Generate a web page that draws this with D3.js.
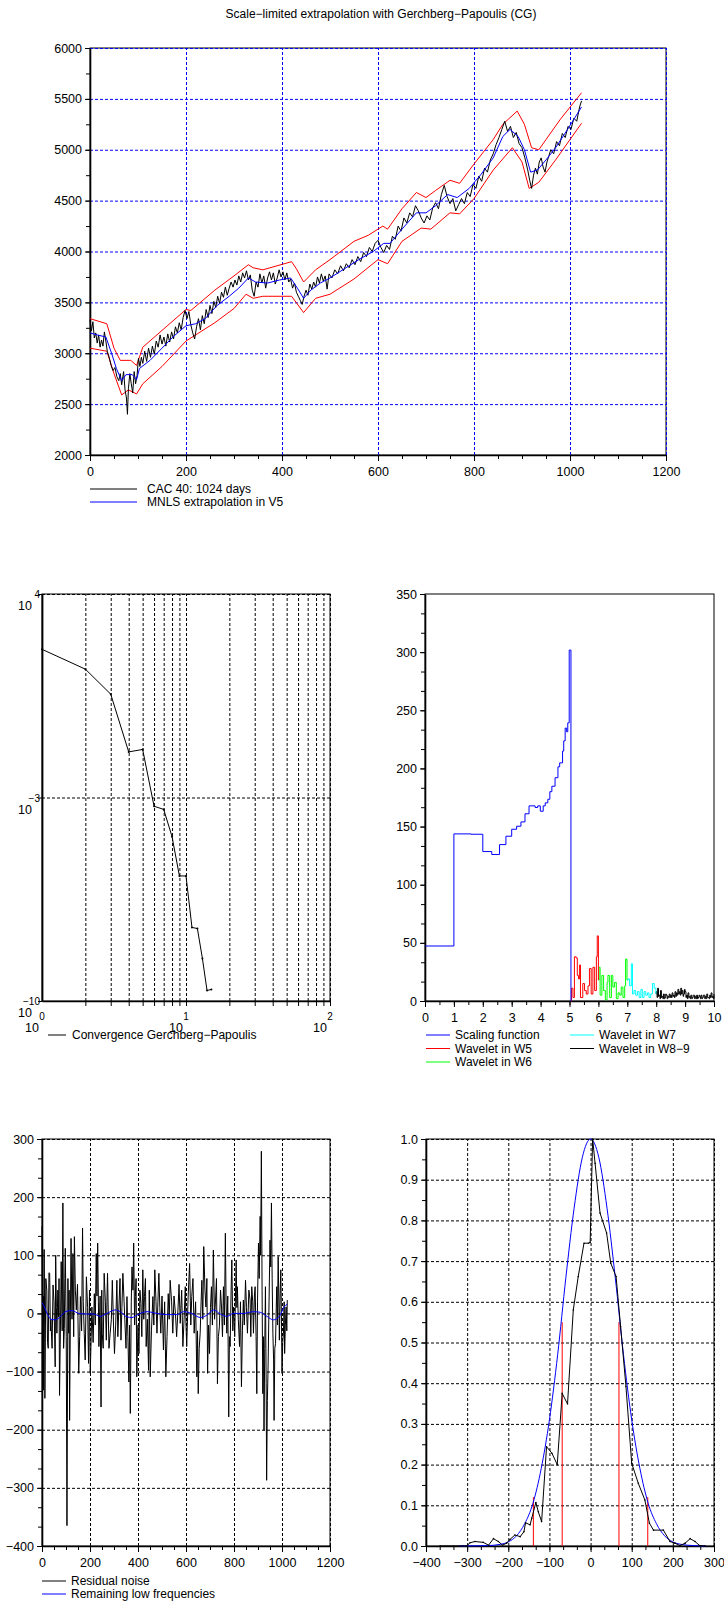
<!DOCTYPE html>
<html>
<head>
<meta charset="utf-8">
<script src="https://cdn.jsdelivr.net/npm/d3@7"></script>
<style>
  body { margin: 0; background: #fff; }
  text { font-family: 'Liberation Sans', Arial, sans-serif; }
</style>
</head>
<body>
<div id="chart"></div>
<script>
// ---- top panel: CAC 40 and extrapolation ----
const cac40 = [[0,3330],[3,3220],[6,3310],[9,3150],[12,3200],[15,3100],[18,3180],[21,3060],[24,3130],[27,3070],[30,3210],[33,3120],[36,3020],[40,2960],[44,2880],[48,2830],[52,2860],[56,2770],[60,2730],[63,2800],[66,2690],[70,2820],[73,2640],[76,2560],[78,2400],[80,2650],[83,2800],[86,2700],[89,2610],[92,2820],[95,2700],[98,2780],[101,2950],[104,2870],[107,2960],[110,2900],[114,3020],[118,2920],[122,3050],[126,2960],[130,3070],[134,2990],[138,3120],[142,3060],[146,3180],[150,3090],[154,3160],[158,3070],[162,3190],[166,3110],[170,3210],[174,3140],[178,3260],[182,3200],[186,3300],[190,3230],[194,3350],[198,3420],[202,3340],[206,3410],[210,3280],[214,3200],[218,3140],[222,3260],[226,3340],[230,3230],[234,3370],[238,3290],[242,3430],[246,3350],[250,3470],[254,3390],[258,3510],[262,3450],[266,3560],[270,3490],[274,3600],[278,3550],[282,3650],[286,3570],[290,3640],[294,3700],[298,3650],[302,3720],[306,3670],[310,3760],[314,3700],[318,3790],[322,3740],[326,3810],[330,3720],[334,3770],[338,3620],[342,3560],[346,3700],[350,3650],[354,3780],[358,3690],[362,3760],[366,3640],[370,3740],[374,3800],[378,3720],[382,3790],[386,3680],[390,3740],[394,3820],[398,3750],[402,3800],[406,3720],[410,3790],[414,3700],[418,3730],[422,3640],[426,3690],[430,3600],[434,3560],[438,3520],[442,3480],[446,3560],[450,3620],[454,3570],[458,3680],[462,3630],[466,3700],[470,3650],[474,3750],[478,3690],[482,3780],[486,3710],[490,3760],[494,3630],[498,3780],[504,3740],[510,3820],[516,3780],[522,3860],[528,3810],[534,3880],[540,3840],[546,3920],[552,3870],[558,3950],[564,3900],[570,3990],[576,3950],[582,4040],[588,4000],[594,4080],[600,4110],[606,4040],[612,3990],[618,4060],[624,4020],[630,4150],[636,4120],[642,4250],[648,4200],[654,4330],[660,4280],[666,4380],[672,4340],[678,4450],[684,4400],[690,4330],[696,4280],[702,4350],[708,4310],[714,4430],[720,4480],[726,4420],[732,4560],[738,4650],[744,4540],[750,4470],[756,4520],[762,4400],[768,4460],[774,4520],[780,4470],[786,4580],[792,4540],[798,4660],[804,4620],[810,4740],[816,4690],[822,4820],[828,4780],[834,4900],[840,4960],[846,5050],[852,5120],[858,5200],[864,5280],[870,5180],[876,5230],[882,5120],[888,5170],[894,5060],[900,5020],[906,4920],[912,4800],[916,4700],[920,4620],[924,4750],[928,4820],[932,4760],[936,4880],[940,4920],[944,4830],[948,4780],[952,4880],[956,4940],[960,5000],[966,4960],[972,5080],[978,5040],[984,5160],[990,5120],[996,5230],[1002,5200],[1008,5310],[1014,5280],[1020,5420],[1024,5480]]

const mnls = [[0,3200],[15,3180],[33,3160],[45,3000],[55,2850],[66,2730],[75,2790],[88,2790],[97,2740],[103,2850],[125,2930],[150,3050],[175,3170],[200,3270],[220,3290],[240,3340],[265,3470],[290,3560],[310,3640],[330,3740],[345,3700],[370,3690],[395,3720],[418,3740],[432,3640],[445,3540],[460,3620],[480,3690],[500,3740],[530,3830],[560,3920],[590,4000],[612,4080],[625,4080],[650,4220],[680,4380],[700,4380],[720,4450],[745,4560],[765,4530],[790,4620],[815,4760],[840,4920],[860,5130],[875,5200],[892,5130],[905,5000],[918,4780],[932,4800],[950,4900],[970,5020],[995,5200],[1024,5420]]

const upperBound = [[0,3340],[35,3290],[50,3050],[63,2930],[85,2930],[97,2880],[110,3060],[200,3430],[210,3420],[260,3620],[300,3760],[330,3870],[340,3840],[360,3820],[420,3900],[430,3830],[445,3700],[470,3820],[500,3920],[550,4100],[580,4160],[610,4250],[620,4220],[650,4420],[680,4580],[700,4530],[720,4600],[750,4700],[770,4670],[800,4860],[840,5100],[860,5250],[890,5380],[905,5250],[920,5020],[935,5000],[950,5100],[980,5300],[1024,5560]]

const lowerBound = [[0,3050],[35,3020],[50,2800],[66,2590],[80,2640],[97,2600],[110,2700],[150,2870],[200,3120],[260,3300],[300,3440],[325,3580],[340,3540],[360,3560],[420,3560],[445,3400],[470,3540],[500,3580],[550,3730],[600,3920],[620,3880],[650,4100],[690,4230],[710,4220],[750,4380],[770,4370],[800,4520],[840,4800],[880,5020],[900,4880],[915,4620],[935,4680],[970,4900],[1024,5260]]

// ---- middle left: convergence ----
const iterations = [1,2,3,4,5,6,7,8,9,10,11,12,13,14,15]
const convError = [1.25e2,2.6e1,3.6,3.7e-2,4.5e-2,5e-4,3.9e-4,4.5e-5,2e-6,2e-6,3.4e-8,3.1e-8,2.9e-9,2.3e-10,2.5e-10]

// ---- middle right: spectrum by scale ----
const scalingFn = [[0,47.3],[1,143.7],[1.59,143.4],[2,128.5],[2.31,126],[2.58,134.5],[2.8,141.7],[3,147.7],[3.17,150.3],[3.32,154],[3.46,161],[3.6,167.8],[3.81,166.4],[3.9,167.8],[3.99,163.2],[4.09,167.8],[4.16,170.4],[4.25,173.5],[4.32,180],[4.39,184.7],[4.5,192],[4.6,201.4],[4.66,204.8],[4.76,214.9],[4.8,223.7],[4.85,234.7],[4.9,231.5],[4.94,239.2],[4.99,301.8],[5.05,0]]
const waveW5 = [[5.05,0],[5.07,11],[5.12,3],[5.17,38],[5.23,37],[5.27,22],[5.31,19],[5.35,31],[5.38,3],[5.46,15],[5.52,9],[5.58,6],[5.64,13],[5.69,28],[5.75,6],[5.81,29],[5.87,9],[5.93,38],[5.96,56],[6.0,18]]
const waveW6 = [[6.0,18],[6.02,29],[6.06,5],[6.12,22],[6.18,9],[6.24,1],[6.3,16],[6.33,22],[6.39,3],[6.45,22],[6.5,12],[6.56,16],[6.62,2],[6.68,7],[6.74,5],[6.79,12],[6.85,3],[6.91,13],[6.94,36],[6.99,18]]
const waveW7 = [[6.99,18],[7.03,19],[7.08,13],[7.14,32],[7.18,6],[7.23,9],[7.29,5],[7.35,8],[7.41,3],[7.47,10],[7.52,3],[7.58,8],[7.64,5],[7.7,7],[7.75,3],[7.81,6],[7.87,15],[7.93,11],[7.99,6]]
const waveW89 = [[7.99,6],[8.0,8],[8.03,3],[8.05,11],[8.08,4],[8.1,5],[8.13,2],[8.15,9],[8.18,3],[8.2,4],[8.23,2],[8.25,6],[8.28,2],[8.3,3],[8.33,6],[8.35,5],[8.38,2],[8.4,4],[8.43,3],[8.45,6],[8.48,3],[8.5,5],[8.53,3],[8.55,7],[8.58,4],[8.6,5],[8.63,3],[8.65,8],[8.68,4],[8.7,7],[8.73,5],[8.75,10],[8.78,6],[8.8,8],[8.83,5],[8.85,11],[8.88,6],[8.9,9],[8.93,4],[8.95,6],[8.98,10],[9.0,8],[9.03,3],[9.05,5],[9.08,2],[9.1,7],[9.13,3],[9.15,4],[9.18,2],[9.2,5],[9.23,2],[9.25,3],[9.28,5],[9.3,5],[9.33,2],[9.35,4],[9.38,2],[9.4,5],[9.43,2],[9.45,3],[9.48,5],[9.5,4],[9.53,2],[9.55,5],[9.58,2],[9.6,3],[9.63,5],[9.65,5],[9.68,2],[9.7,4],[9.73,2],[9.75,6],[9.78,3],[9.8,3],[9.83,2],[9.85,5],[9.88,3],[9.9,7],[9.93,3],[9.95,4],[9.98,2],[10,6]]

// ---- bottom left: residual ----
const residual = [[0,150],[2,20],[3,-80],[5,30],[6,-132],[8,40],[9,110],[11,-20],[12,-146],[16,60],[20,40],[23,-50],[26,-60],[29,70],[32,69],[35,-30],[37,-11],[42,-60],[46,49],[50,20],[55,-92],[57,100],[60,10],[62,-34],[66,40],[69,-6],[71,60],[73,-141],[77,-20],[80,89],[84,-30],[87,190],[90,-60],[93,-26],[95,60],[97,112],[101,-40],[104,-365],[108,60],[111,-34],[113,40],[115,-184],[118,-20],[121,129],[125,-10],[129,103],[132,-40],[135,132],[139,40],[143,6],[148,50],[153,-103],[157,-40],[160,29],[165,-30],[169,147],[172,20],[176,-34],[180,-80],[185,63],[190,10],[194,-86],[198,40],[201,-103],[205,-40],[208,11],[213,-50],[218,34],[222,-20],[226,103],[229,30],[232,121],[235,20],[237,-57],[242,30],[246,-161],[249,40],[251,-34],[255,-60],[259,69],[264,20],[268,-46],[271,30],[273,69],[279,-60],[284,-34],[289,-10],[293,57],[298,-20],[302,-69],[307,-20],[312,57],[316,-40],[320,6],[325,60],[329,-46],[333,10],[337,69],[341,30],[345,-11],[350,-60],[354,29],[358,-40],[362,-118],[365,-20],[368,-172],[372,20],[375,80],[379,40],[382,121],[386,-20],[389,29],[392,60],[395,-109],[400,-20],[404,-69],[408,40],[412,17],[416,-40],[420,75],[424,-10],[427,29],[431,60],[434,-57],[439,-10],[444,-98],[447,40],[451,-109],[456,-30],[462,29],[466,-20],[470,75],[475,20],[479,-34],[483,20],[487,69],[491,10],[495,-34],[500,30],[506,-63],[511,20],[516,-109],[521,-40],[526,34],[530,-10],[534,57],[540,20],[545,-34],[550,30],[556,0],[561,-40],[567,11],[571,50],[576,-17],[582,40],[587,-57],[592,-10],[597,46],[600,-20],[603,-57],[609,30],[615,86],[620,-20],[624,29],[629,60],[634,-34],[640,20],[645,-109],[648,-30],[651,-138],[655,-60],[659,-34],[663,20],[666,57],[670,-10],[674,115],[679,40],[683,11],[687,60],[690,-103],[694,-20],[698,-69],[702,10],[706,46],[710,-20],[714,109],[719,-10],[723,23],[727,60],[731,-121],[735,-40],[739,-23],[744,40],[748,11],[752,-40],[756,46],[760,-20],[764,138],[767,20],[770,-34],[774,30],[778,-178],[781,-40],[784,-57],[788,40],[791,92],[795,-30],[798,11],[803,-40],[809,92],[812,10],[814,46],[818,-10],[823,-57],[827,20],[831,-126],[835,-30],[839,23],[843,-20],[848,57],[852,10],[856,-34],[862,40],[867,23],[870,-40],[874,46],[878,20],[881,-34],[885,30],[888,46],[892,-40],[895,-138],[898,20],[902,121],[905,60],[909,167],[911,100],[914,279],[917,40],[920,-138],[923,-40],[925,-201],[928,-60],[931,46],[934,-120],[936,-287],[939,-150],[942,-92],[946,20],[950,126],[953,80],[956,190],[959,60],[962,-34],[965,-80],[967,-184],[970,-60],[973,-52],[976,10],[978,46],[981,-20],[984,98],[987,20],[989,-46],[992,30],[995,75],[998,-20],[1000,-103],[1003,-50],[1006,-34],[1009,20],[1011,-69],[1014,-20],[1017,11],[1020,-30],[1022,23]]
const lowFreq = [[0,18],[4,16],[21,0],[37,-10],[55,-11],[76,-6],[97,3],[125,5],[153,0],[187,-1],[215,-1],[243,-5],[271,0],[305,6],[326,3],[354,-6],[375,-7],[395,-3],[437,3],[479,0],[520,-2],[562,-2],[590,3],[624,0],[659,-7],[687,-3],[715,6],[743,-1],[770,-5],[798,0],[839,0],[881,3],[909,2],[937,-5],[964,-11],[989,-5],[1009,11],[1022,16]]

// ---- bottom right: distribution ----
const density = [[-366,0],[-301,0],[-293,0.008],[-281,0.011],[-261,0.009],[-248,0.002],[-236,0.018],[-224,0.011],[-214,0.002],[-204,0.007],[-196,0.016],[-184,0.027],[-171,0.023],[-162,0.035],[-158,0.057],[-147,0.052],[-143,0.068],[-133,0.107],[-127,0.084],[-119,0.06],[-107,0.244],[-94,0.228],[-81,0.2],[-69,0.375],[-56,0.349],[-42,0.58],[-30,0.662],[-16,0.744],[-5,0.744],[-1,0.746],[5,1.0],[11,0.94],[23,0.818],[39,0.769],[49,0.695],[62,0.662],[73,0.539],[86,0.392],[100,0.203],[116,0.154],[132,0.113],[143,0.056],[153,0.039],[177,0.039],[193,0.011],[205,0.007],[217,0.001],[230,0.007],[242,0.018],[254,0.011],[265,0.001],[278,0]]
const gaussian = [[-320,0],[-280,0.0005],[-250,0.001],[-220,0.004],[-200,0.01],[-180,0.025],[-160,0.055],[-140,0.105],[-120,0.19],[-100,0.31],[-80,0.47],[-60,0.66],[-40,0.83],[-20,0.955],[0,1.0],[20,0.955],[40,0.83],[60,0.66],[80,0.47],[100,0.31],[120,0.19],[140,0.105],[160,0.055],[180,0.025],[200,0.01],[220,0.004],[250,0.001],[280,0]]
const thresholds = [[-139,0.12],[-69,0.55],[69,0.55],[139,0.12]]

const W = 724, H = 1607
const FONT = "'Liberation Sans', Arial, sans-serif"
const translate = (x, y) => 'translate(' + x + ', ' + y + ')'

const svg = d3.select('#chart').append('svg')
    .attr('width', W).attr('height', H)

svg.append('text')
    .attr('x', 381).attr('y', 18)
    .attr('text-anchor', 'middle')
    .attr('font-size', 12)
    .text('Scale\u2212limited extrapolation with Gerchberg\u2212Papoulis (CG)')

const styleAxis = (sel, size) => {
    sel.attr('font-family', FONT).attr('font-size', size || 12.5)
    sel.selectAll('.tick line').attr('stroke', '#000')
}

// frame, grid, ticks for a linear panel
const linearPanel = (box, x, y, cfg) => {
    const g = svg.append('g')
    const w = box.x1 - box.x0, h = box.y1 - box.y0
    g.append('rect')
        .attr('x', box.x0).attr('y', box.y0)
        .attr('width', w).attr('height', h)
        .attr('fill', 'none').attr('stroke', '#000')
    if (cfg.grid) {
        const gx = g.append('g').attr('transform', translate(0, box.y1))
            .call(d3.axisBottom(x).tickValues(cfg.xMajor.slice(1)).tickSize(-h).tickFormat(''))
        const gy = g.append('g').attr('transform', translate(box.x0, 0))
            .call(d3.axisLeft(y).tickValues(cfg.yMajor.slice(1)).tickSize(-w).tickFormat(''))
        ;[gx, gy].forEach(s => {
            s.select('.domain').remove()
            s.selectAll('.tick line').attr('stroke', cfg.grid).attr('stroke-dasharray', '3,2')
        })
    }
    g.append('g').attr('transform', translate(0, box.y1))
        .call(d3.axisBottom(x).tickValues(cfg.xMinor).tickSize(4).tickSizeOuter(0).tickFormat(''))
        .call(s => s.select('.domain').remove())
    g.append('g').attr('transform', translate(box.x0, 0))
        .call(d3.axisLeft(y).tickValues(cfg.yMinor).tickSize(4).tickSizeOuter(0).tickFormat(''))
        .call(s => s.select('.domain').remove())
    const ax = g.append('g').attr('transform', translate(0, box.y1))
        .call(d3.axisBottom(x).tickValues(cfg.xMajor).tickSize(6).tickSizeOuter(0).tickPadding(6).tickFormat(cfg.xFmt))
    const ay = g.append('g').attr('transform', translate(box.x0, 0))
        .call(d3.axisLeft(y).tickValues(cfg.yMajor).tickSize(5).tickSizeOuter(0).tickPadding(3).tickFormat(cfg.yFmt))
    ;[ax, ay].forEach(s => {
        styleAxis(s)
        s.select('.domain').attr('stroke-width', 1.6)
    })
    return g
}

const drawLine = (g, data, x, y, color, curve) => {
    g.append('path')
        .datum(data)
        .attr('fill', 'none')
        .attr('stroke', color)
        .attr('stroke-width', 1)
        .attr('d', d3.line().x(d => x(d[0])).y(d => y(d[1])).curve(curve || d3.curveLinear))
}

const legend = (items, x0, y0, lineLen, gap, rowH) => {
    items.forEach((it, i) => {
        const yy = y0 + i * rowH
        svg.append('line')
            .attr('x1', x0).attr('x2', x0 + lineLen)
            .attr('y1', yy).attr('y2', yy)
            .attr('stroke', it.color)
        svg.append('text')
            .attr('x', x0 + lineLen + gap).attr('y', yy)
            .attr('dy', '0.36em')
            .attr('font-size', 12)
            .text(it.label)
    })
}

// ---- top panel ----
const topBox = {x0: 90, x1: 666, y0: 48, y1: 455}
const xTop = d3.scaleLinear().domain([0, 1200]).range([topBox.x0, topBox.x1])
const yTop = d3.scaleLinear().domain([2000, 6000]).range([topBox.y1, topBox.y0])
const gTop = linearPanel(topBox, xTop, yTop, {
    grid: '#0000ff',
    xMajor: d3.range(0, 1201, 200), xMinor: d3.range(0, 1201, 50),
    yMajor: d3.range(2000, 6001, 500), yMinor: d3.range(2000, 6001, 250),
    xFmt: d3.format('d'), yFmt: d3.format('d')
})
drawLine(gTop, upperBound, xTop, yTop, '#ff0000')
drawLine(gTop, lowerBound, xTop, yTop, '#ff0000')
drawLine(gTop, cac40, xTop, yTop, '#000000')
drawLine(gTop, mnls, xTop, yTop, '#0000ff')
legend([
    {label: 'CAC 40: 1024 days', color: '#000'},
    {label: 'MNLS extrapolation in V5', color: '#0000ff'}
], 90, 489, 47, 10, 13)

// ---- middle left: log-log convergence ----
const logBox = {x0: 42, x1: 330, y0: 594, y1: 1001}
const xLog = d3.scaleLog().domain([1, 100]).range([logBox.x0, logBox.x1])
const yLog = d3.scaleLog().domain([1e-10, 1e4]).range([logBox.y1, logBox.y0])
const gLog = svg.append('g')
gLog.append('rect')
    .attr('x', logBox.x0).attr('y', logBox.y0)
    .attr('width', logBox.x1 - logBox.x0).attr('height', logBox.y1 - logBox.y0)
    .attr('fill', 'none').attr('stroke', '#000')
const logMinor = [2,3,4,5,6,7,8,9,10,20,30,40,50,60,70,80,90,100]
gLog.append('g').attr('transform', translate(0, logBox.y1))
    .call(d3.axisBottom(xLog).tickValues(logMinor).tickSize(-(logBox.y1 - logBox.y0)).tickFormat(''))
    .call(s => { s.select('.domain').remove(); s.selectAll('.tick line').attr('stroke', '#000').attr('stroke-dasharray', '3,2') })
gLog.append('g').attr('transform', translate(logBox.x0, 0))
    .call(d3.axisLeft(yLog).tickValues([1e-3, 1e4]).tickSize(-(logBox.x1 - logBox.x0)).tickFormat(''))
    .call(s => { s.select('.domain').remove(); s.selectAll('.tick line').attr('stroke', '#000').attr('stroke-dasharray', '3,2') })
gLog.append('g').attr('transform', translate(0, logBox.y1))
    .call(d3.axisBottom(xLog).tickValues(logMinor).tickSize(5).tickSizeOuter(0).tickFormat(''))
    .call(s => { s.select('.domain').attr('stroke-width', 1.6); s.selectAll('.tick line').attr('stroke', '#000') })
gLog.append('g').attr('transform', translate(logBox.x0, 0))
    .call(d3.axisLeft(yLog).tickValues([1e-10, 1e-3, 1e4]).tickSize(4).tickSizeOuter(0).tickFormat(''))
    .call(s => { s.select('.domain').attr('stroke-width', 1.8); s.selectAll('.tick line').attr('stroke', '#000') })

const expLabelsY = [[1e4, '4'], [1e-3, '\u22123'], [1e-10, '\u221210']]
expLabelsY.forEach(([v, e]) => {
    const yy = yLog(v)
    svg.append('text').attr('x', 32).attr('y', yy + 16).attr('text-anchor', 'end')
        .attr('font-size', 12.5).text('10')
    svg.append('text').attr('x', 40).attr('y', yy + 4).attr('text-anchor', 'end')
        .attr('font-size', 10).text(e)
})
const expLabelsX = [[1, '0'], [10, '1'], [100, '2']]
expLabelsX.forEach(([v, e]) => {
    const xx = xLog(v)
    svg.append('text').attr('x', xx - 3).attr('y', 1032).attr('text-anchor', 'end')
        .attr('font-size', 12.5).text('10')
    svg.append('text').attr('x', xx).attr('y', 1020).attr('text-anchor', 'middle')
        .attr('font-size', 10).text(e)
})
const convData = iterations.map((it, i) => [it, convError[i]])
drawLine(gLog, convData, xLog, yLog, '#000')
gLog.selectAll('circle.pt').data(convData).join('circle')
    .attr('class', 'pt')
    .attr('cx', d => xLog(d[0])).attr('cy', d => yLog(d[1]))
    .attr('r', 1).attr('fill', '#000')
legend([{label: 'Convergence Gerchberg\u2212Papoulis', color: '#000'}], 48, 1035, 18, 6, 13)

// ---- middle right: scale spectrum ----
const specBox = {x0: 425, x1: 714, y0: 594, y1: 1001}
const xSpec = d3.scaleLinear().domain([0, 10]).range([specBox.x0, specBox.x1])
const ySpec = d3.scaleLinear().domain([0, 350]).range([specBox.y1, specBox.y0])
const gSpec = linearPanel(specBox, xSpec, ySpec, {
    grid: null,
    xMajor: d3.range(0, 11, 1), xMinor: d3.range(0, 10.01, 0.5),
    yMajor: d3.range(0, 351, 50), yMinor: d3.range(0, 351, 50 / 3),
    xFmt: d3.format('d'), yFmt: d3.format('d')
})
drawLine(gSpec, waveW89, xSpec, ySpec, '#000', d3.curveStepAfter)
drawLine(gSpec, waveW7, xSpec, ySpec, '#00ffff', d3.curveStepAfter)
drawLine(gSpec, waveW6, xSpec, ySpec, '#00ff00', d3.curveStepAfter)
drawLine(gSpec, waveW5, xSpec, ySpec, '#ff0000', d3.curveStepAfter)
drawLine(gSpec, scalingFn, xSpec, ySpec, '#0000ff', d3.curveStepAfter)
legend([
    {label: 'Scaling function', color: '#0000ff'},
    {label: 'Wavelet in W5', color: '#ff0000'},
    {label: 'Wavelet in W6', color: '#00ff00'}
], 426, 1035, 24, 5, 13.5)
legend([
    {label: 'Wavelet in W7', color: '#00ffff'},
    {label: 'Wavelet in W8\u22129', color: '#000'}
], 570, 1035, 24, 5, 13.5)

// ---- bottom left: residual noise ----
const resBox = {x0: 42, x1: 330, y0: 1139, y1: 1546}
const xRes = d3.scaleLinear().domain([0, 1200]).range([resBox.x0, resBox.x1])
const yRes = d3.scaleLinear().domain([-400, 300]).range([resBox.y1, resBox.y0])
const gRes = linearPanel(resBox, xRes, yRes, {
    grid: '#000',
    xMajor: d3.range(0, 1201, 200), xMinor: d3.range(0, 1201, 50),
    yMajor: d3.range(-400, 301, 100), yMinor: d3.range(-400, 301, 100 / 3),
    xFmt: d3.format('d'), yFmt: d3.format('d')
})
drawLine(gRes, residual, xRes, yRes, '#000')
drawLine(gRes, lowFreq, xRes, yRes, '#0000ff', d3.curveMonotoneX)
legend([
    {label: 'Residual noise', color: '#000'},
    {label: 'Remaining low frequencies', color: '#0000ff'}
], 42, 1581, 24, 5, 13)

// ---- bottom right: distribution ----
const disBox = {x0: 426, x1: 714, y0: 1139, y1: 1546}
const xDis = d3.scaleLinear().domain([-400, 300]).range([disBox.x0, disBox.x1])
const yDis = d3.scaleLinear().domain([0, 1]).range([disBox.y1, disBox.y0])
const gDis = linearPanel(disBox, xDis, yDis, {
    grid: '#000',
    xMajor: d3.range(-400, 301, 100), xMinor: d3.range(-400, 301, 100 / 3),
    yMajor: d3.range(0, 1.001, 0.1), yMinor: d3.range(0, 1.001, 0.05),
    xFmt: d3.format('d'), yFmt: d3.format('.1f')
})
gDis.selectAll('line.thr').data(thresholds).join('line')
    .attr('class', 'thr')
    .attr('x1', d => xDis(d[0])).attr('x2', d => xDis(d[0]))
    .attr('y1', yDis(0)).attr('y2', d => yDis(d[1]))
    .attr('stroke', '#ff0000')
drawLine(gDis, gaussian, xDis, yDis, '#0000ff', d3.curveMonotoneX)
drawLine(gDis, density, xDis, yDis, '#000')
gDis.selectAll('circle.pt').data(density).join('circle')
    .attr('class', 'pt')
    .attr('cx', d => xDis(d[0])).attr('cy', d => yDis(d[1]))
    .attr('r', 0.8).attr('fill', '#000')
</script>
</body>
</html>
